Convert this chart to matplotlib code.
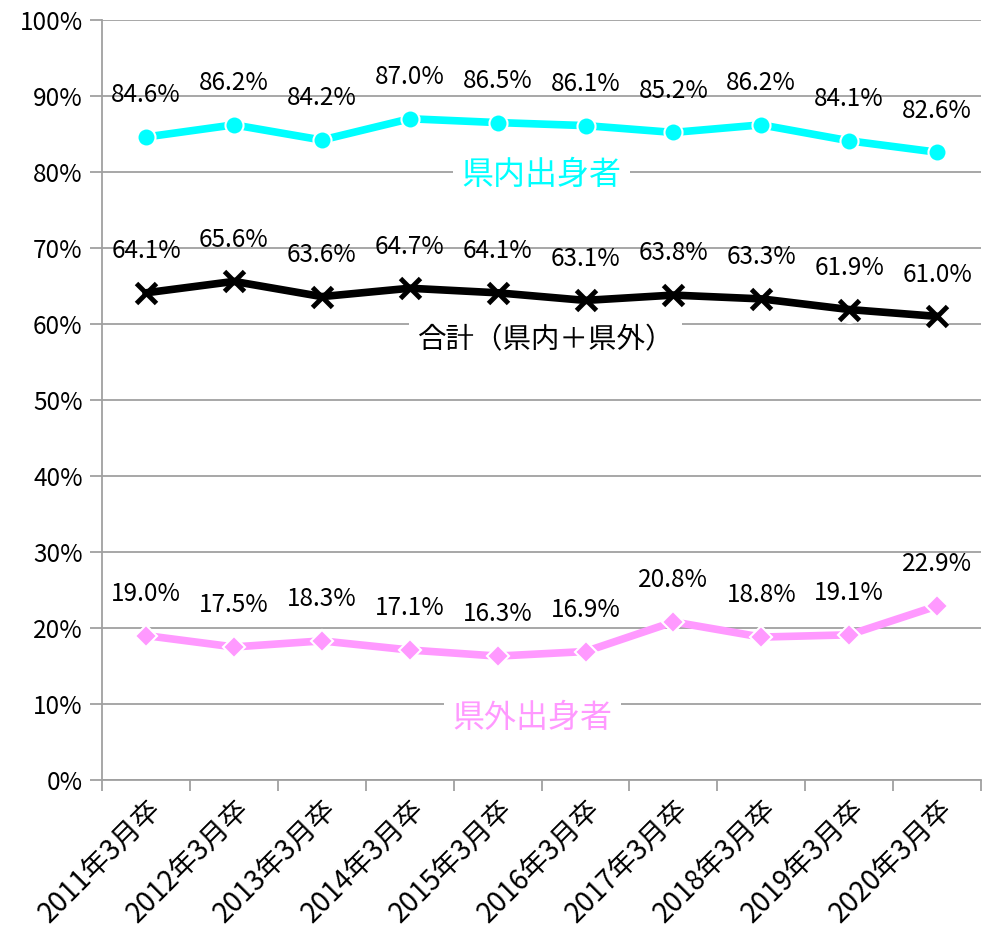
import numpy as np
import matplotlib
matplotlib.use('Agg')
from matplotlib import pyplot as plt
from matplotlib.ticker import FixedLocator

plt.rcParams['font.family'] = ['Noto Sans CJK JP', 'DejaVu Sans']

# data
categories = ['2011年3月卒', '2012年3月卒', '2013年3月卒', '2014年3月卒', '2015年3月卒',
              '2016年3月卒', '2017年3月卒', '2018年3月卒', '2019年3月卒', '2020年3月卒']
inside = [84.6, 86.2, 84.2, 87.0, 86.5, 86.1, 85.2, 86.2, 84.1, 82.6]
total = [64.1, 65.6, 63.6, 64.7, 64.1, 63.1, 63.8, 63.3, 61.9, 61.0]
outside = [19.0, 17.5, 18.3, 17.1, 16.3, 16.9, 20.8, 18.8, 19.1, 22.9]

fig = plt.figure(figsize=(9.82, 9.46), dpi=100)
ax = fig.add_axes([0.104, 0.1755, 0.895, 0.8034])

x = np.arange(len(categories))
grid_c = '#a0a0a0'

ax.plot(x, inside, color='#00ffff', lw=5.5, marker='o', ms=13,
        mec='white', mew=1.5, zorder=3)
ax.plot(x, total, color='black', lw=5.5, marker='x', ms=14,
        mew=3.5, zorder=3)
ax.plot(x, total, ls='none', marker='o', ms=18, mfc='white', mec='white', zorder=2.9)
ax.plot(x, outside, color='#ff99ff', lw=5.5, marker='D', ms=11,
        mec='white', mew=1.5, zorder=3)

# value labels
for series in (inside, total, outside):
    for xi, v in zip(x, series):
        ax.annotate(f'{v:.1f}%', (xi, v), xytext=(0, 30), textcoords='offset points',
                    ha='center', va='center', fontsize=17.5, color='black', zorder=4)

# series name labels
ax.text(4.5, 79.6, '県内出身者', color='#00ffff', fontsize=23, ha='center', va='center',
        bbox=dict(facecolor='white', edgecolor='none', pad=6), zorder=4)
ax.text(4.55, 57.9, '合計（県内＋県外）', color='black', fontsize=20.5, ha='center', va='center',
        bbox=dict(facecolor='white', edgecolor='none', pad=6), zorder=4)
ax.text(4.4, 8.2, '県外出身者', color='#ff99ff', fontsize=23, ha='center', va='center',
        bbox=dict(facecolor='white', edgecolor='none', pad=6), zorder=4)

ax.set_xlim(-0.5, len(categories) - 0.5)
ax.set_ylim(0, 100)

yt = np.arange(0, 101, 10)
ax.set_yticks(yt)
ax.set_yticklabels([f'{v}%' for v in yt], fontsize=17.5)
ax.yaxis.grid(True, color=grid_c, lw=1.3, zorder=0)
ax.set_axisbelow(True)

ax.xaxis.set_major_locator(FixedLocator(np.arange(-0.5, len(categories), 1.0)))
ax.xaxis.set_major_formatter(plt.NullFormatter())
ax.xaxis.set_minor_locator(FixedLocator(x))
ax.set_xticklabels(categories, minor=True, rotation=45, ha='right',
                   rotation_mode='anchor', fontsize=20)
ax.tick_params(axis='x', which='minor', length=0, pad=10)
ax.tick_params(axis='x', which='major', length=8, width=1.3, color=grid_c, direction='out')
ax.tick_params(axis='y', length=9, width=1.3, color=grid_c, direction='out', pad=5)

for s in ('top', 'right'):
    ax.spines[s].set_visible(False)
for s in ('left', 'bottom'):
    ax.spines[s].set_color(grid_c)
    ax.spines[s].set_linewidth(1.3)

fig.savefig('out.png', dpi=100)
